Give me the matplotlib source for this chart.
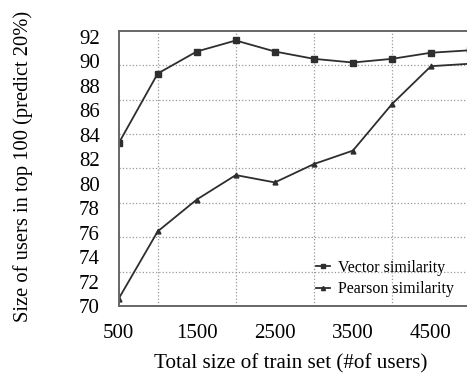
import matplotlib
matplotlib.use("Agg")
import matplotlib.pyplot as plt
import numpy as np

plt.rcParams['font.family'] = ['Liberation Serif', 'DejaVu Serif']

train_size = [500, 1000, 1500, 2000, 2500, 3000, 3500, 4000, 4500, 5000]
vector_sim = [83.3, 89.0, 90.8, 91.7, 90.8, 90.2, 89.9, 90.2, 90.7, 90.9]
pearson_sim = [70.6, 76.1, 78.7, 80.7, 80.1, 81.6, 82.7, 86.5, 89.6, 89.8]
x_ticks = [500, 1500, 2500, 3500, 4500]
y_ticks = [70, 72, 74, 76, 78, 80, 82, 84, 86, 88, 90, 92]

fig = plt.figure(figsize=(4.67, 3.74), dpi=100)
ax_w = 470 - 118.7
ax_h = 306 - 30.7
ax = fig.add_axes([118.7 / 467, 68 / 374, ax_w / 467, ax_h / 374])

line_col = '#2e2e2e'
ax.plot(train_size, vector_sim, color=line_col, lw=1.3, marker='s', ms=4,
        label='Vector similarity')
ax.plot(train_size, pearson_sim, color=line_col, lw=1.3, marker='^', ms=3.5,
        label='Pearson similarity')

ax.set_xlim(500, 5000)
ax.set_ylim(70, 92.5)
ax.set_xticks(x_ticks)
ax.set_yticks(y_ticks)
ax.set_xticks(np.arange(1000, 5000, 500), minor=True)
ax.set_yticks(np.linspace(70, 92.5, 9)[1:-1], minor=True)
ax.tick_params(which='both', length=0, labelsize=15)
ax.tick_params(axis='x', pad=13)
ax.tick_params(axis='y', pad=13.5)
ax.grid(which='minor', linestyle=':', color='#999999', lw=0.9)
ax.grid(which='major', visible=False)

for s in ['left', 'bottom', 'top']:
    ax.spines[s].set_color('#666666')
    ax.spines[s].set_linewidth(1.4)
ax.spines['right'].set_visible(False)

ax.set_xlabel('Total size of train set (#of users)', fontsize=15.2, va='center')
ax.xaxis.set_label_coords((290.5 - 118.7) / ax_w, (306 - 364) / ax_h)
ax.set_ylabel('Size of users in top 100 (predict 20%)', fontsize=14.8, va='center')
ax.yaxis.set_label_coords((23 - 118.7) / ax_w, (306 - 166) / ax_h)

ax.legend(loc='center left', bbox_to_anchor=((316 - 118.7) / ax_w, (306 - 278.5) / ax_h),
          frameon=False, fontsize=11.5, handlelength=0.9, handletextpad=0.5,
          labelspacing=0.35, borderpad=0, borderaxespad=0, markerscale=0.85)

fig.savefig('out.png', dpi=100)
